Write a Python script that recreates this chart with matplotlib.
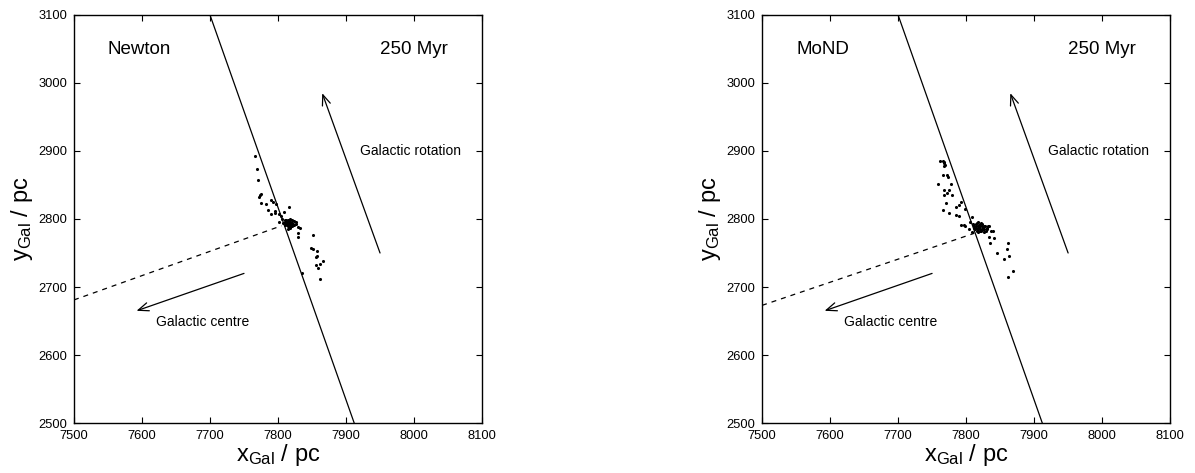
import matplotlib
matplotlib.use("Agg")
import matplotlib.pyplot as plt

plt.rcParams['font.family'] = ['Liberation Sans', 'DejaVu Sans']
plt.rcParams['mathtext.fontset'] = 'custom'
plt.rcParams['mathtext.rm'] = 'Liberation Sans'

# stars, Newton model
newton_x = [7766, 7769, 7771, 7775, 7772, 7774, 7775, 7783, 7790, 7793, 7797, 7786,
            7789, 7795, 7796, 7801, 7805, 7809, 7816, 7801, 7806, 7826, 7829, 7832,
            7829, 7830, 7852, 7849, 7851, 7857, 7856, 7857, 7861, 7866, 7856, 7859,
            7835, 7862,
            7810, 7812, 7814, 7816, 7818, 7820, 7813, 7815, 7817, 7819, 7811, 7814,
            7816, 7818, 7821, 7822, 7812, 7815, 7817, 7813, 7819, 7816, 7823, 7808,
            7820, 7814, 7824, 7826, 7810, 7818]
newton_y = [2893, 2874, 2857, 2837, 2832, 2836, 2823, 2822, 2828, 2825, 2822, 2813,
            2807, 2809, 2812, 2808, 2805, 2811, 2818, 2796, 2800, 2793, 2788, 2787,
            2780, 2773, 2777, 2758, 2756, 2753, 2744, 2746, 2734, 2738, 2733, 2728,
            2720, 2712,
            2796, 2798, 2799, 2797, 2796, 2794, 2793, 2794, 2792, 2790, 2791, 2789,
            2788, 2787, 2790, 2793, 2795, 2796, 2795, 2791, 2793, 2790, 2797, 2794,
            2798, 2786, 2791, 2795, 2799, 2800]

# stars, MoND model
mond_x = [7762, 7766, 7768, 7769, 7767, 7767, 7766, 7772, 7773, 7759, 7778, 7768,
          7775, 7767, 7780, 7772, 7770, 7792, 7789, 7785, 7799, 7766, 7775, 7785,
          7790, 7809, 7793, 7797, 7799, 7806, 7804, 7808, 7834, 7836, 7840, 7834,
          7841, 7835, 7861, 7860, 7846, 7863, 7856, 7869, 7862,
          7812, 7814, 7816, 7818, 7820, 7822, 7824, 7826, 7828, 7830, 7815, 7817,
          7819, 7821, 7823, 7825, 7813, 7816, 7818, 7820, 7822, 7824, 7827, 7829,
          7831, 7811, 7819, 7823, 7821, 7814, 7826, 7817, 7832, 7810]
mond_y = [2885, 2885, 2884, 2880, 2883, 2878, 2865, 2865, 2862, 2852, 2852, 2842,
          2843, 2836, 2836, 2838, 2824, 2825, 2820, 2817, 2814, 2813, 2809, 2806,
          2805, 2803, 2791, 2791, 2789, 2795, 2785, 2781, 2790, 2783, 2782, 2773,
          2772, 2764, 2764, 2756, 2750, 2746, 2741, 2723, 2714,
          2790, 2792, 2794, 2795, 2793, 2794, 2792, 2790, 2789, 2787, 2787, 2789,
          2788, 2786, 2785, 2787, 2785, 2783, 2781, 2783, 2782, 2784, 2785, 2783,
          2785, 2787, 2791, 2790, 2789, 2789, 2781, 2785, 2790, 2792]

# solid reference line and dashed line towards the Galactic centre
orbit_x = [7700, 7912]
orbit_y = [3100, 2500]
centre_line_x = {'Newton': [7500, 7805], 'MoND': [7500, 7812]}
centre_line_y = {'Newton': [2681, 2790], 'MoND': [2673, 2779]}

# arrows (tail, head)
arrow_centre = [(7750, 2720), (7592, 2665)]
arrow_rotation = [(7950, 2750), (7865, 2985)]

panels = [
    ('Newton', newton_x, newton_y, 0.0619),
    ('MoND', mond_x, mond_y, 0.6377),
]

fig = plt.figure(figsize=(11.95, 4.73), dpi=100)

for name, xs, ys, left in panels:
    ax = fig.add_axes([left, 0.1057, 0.3415, 0.8626])
    ax.set_xlim(7500, 8100)
    ax.set_ylim(2500, 3100)
    ax.set_xticks(range(7500, 8101, 100))
    ax.set_yticks(range(2500, 3101, 100))
    ax.tick_params(direction='in', top=True, right=True, length=4.5, width=0.8,
                   labelsize=9.3, pad=5)
    for sp in ax.spines.values():
        sp.set_linewidth(1.0)

    ax.plot(orbit_x, orbit_y, color='black', lw=0.9)
    ax.plot(centre_line_x[name], centre_line_y[name], color='black', lw=0.9,
            dashes=(4, 4))
    ax.scatter(xs, ys, s=5, color='black', linewidths=0)

    for (x0, y0), (x1, y1) in [arrow_centre, arrow_rotation]:
        ax.annotate('', xy=(x1, y1), xytext=(x0, y0),
                    arrowprops=dict(arrowstyle='->, head_length=0.75, head_width=0.3',
                                    mutation_scale=10, lw=0.9, color='black',
                                    shrinkA=0, shrinkB=0))

    ax.text(7550, 3049, name, fontsize=13.5, va='center', ha='left')
    ax.text(8050, 3049, '250 Myr', fontsize=13.5, va='center', ha='right')
    ax.text(7620, 2649, 'Galactic centre', fontsize=10, va='center', ha='left')
    ax.text(7920, 2900, 'Galactic rotation', fontsize=10, va='center', ha='left')

    ax.set_xlabel(r'$\mathregular{x_{Gal}}$ / pc', fontsize=17, labelpad=0)
    ax.set_ylabel(r'$\mathregular{y_{Gal}}$ / pc', fontsize=17, labelpad=2)

fig.savefig('out.png', dpi=100)
